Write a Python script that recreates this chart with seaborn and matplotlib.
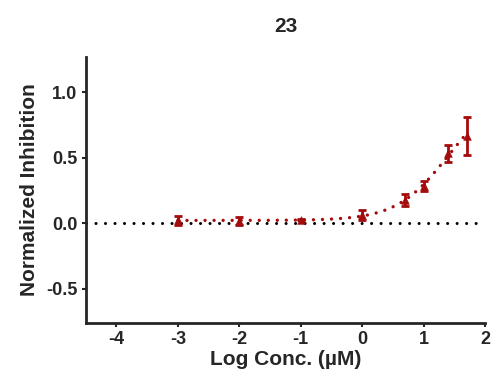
import numpy as np
import pandas as pd
import matplotlib
matplotlib.use("Agg")
import matplotlib.pyplot as plt
import seaborn as sns

# data
log_conc = [-3.0, -2.0, -1.0, 0.0, 0.7, 1.0, 1.4, 1.7]
inhibition = [0.023, 0.017, 0.03, 0.065, 0.18, 0.285, 0.535, 0.67]
sem = [0.035, 0.03, 0.005, 0.04, 0.045, 0.035, 0.065, 0.145]
x_ticks = [-4, -3, -2, -1, 0, 1, 2]
y_ticks = [-0.5, 0.0, 0.5, 1.0]
title = "23"
red = "#A30C0C"


def fit_4pl(x, y, top=1.0):
    # brute-force grid search for a four-parameter logistic with fixed top
    x, y = np.asarray(x), np.asarray(y)
    best = None
    for ec50 in np.linspace(0.5, 3.0, 251):
        for hill in np.linspace(0.3, 3.0, 136):
            s = 1.0 / (1.0 + 10 ** ((ec50 - x) * hill))
            a = 1 - s
            bottom = np.dot(a, y - top * s) / np.dot(a, a)
            err = np.sum((bottom + (top - bottom) * s - y) ** 2)
            if best is None or err < best[0]:
                best = (err, bottom, ec50, hill)
    return best[1:], top


(bottom, ec50, hill), top = fit_4pl(log_conc, inhibition)
xf = np.linspace(min(log_conc), max(log_conc), 300)
curve = pd.DataFrame({
    "x": xf,
    "y": bottom + (top - bottom) / (1 + 10 ** ((ec50 - xf) * hill)),
})
df = pd.DataFrame({"x": log_conc, "y": inhibition, "err": sem})

sns.set_style("ticks")
plt.rcParams["font.family"] = ["Liberation Sans", "DejaVu Sans"]
plt.rcParams["font.weight"] = "bold"

fig = plt.figure(figsize=(4.93, 3.77), dpi=100)
ax = fig.add_axes([0.174, 0.143, 0.81, 0.706])

ax.axhline(0, color="black", lw=2.2, linestyle=(0, (0.01, 3.1)),
           dash_capstyle="round", zorder=1)
sns.lineplot(data=curve, x="x", y="y", ax=ax, color=red, lw=2.4,
             linestyle=(0, (0.01, 2.7)), dash_capstyle="round", zorder=2)
ax.errorbar(df["x"], df["y"], yerr=df["err"], fmt="none", ecolor=red,
            elinewidth=2, capsize=3, capthick=2, zorder=3)
sns.scatterplot(data=df, x="x", y="y", ax=ax, marker="^", s=30,
                color=red, edgecolor=red, zorder=4)

ax.set_xlim(-4.5, 2)
ax.set_ylim(-0.76, 1.27)
ax.set_xticks(x_ticks)
ax.set_xticklabels([str(t) for t in x_ticks])
ax.set_yticks(y_ticks)
ax.set_yticklabels([f"{t:.1f}" for t in y_ticks])
ax.tick_params(axis="both", labelsize=13, width=1.5, length=3, pad=3)
for s in ["left", "bottom"]:
    ax.spines[s].set_linewidth(2)
sns.despine(ax=ax)

ax.set_xlabel("Log Conc. (\u00b5M)", fontsize=15, fontweight="bold", labelpad=1)
ax.set_ylabel("Normalized Inhibition", fontsize=15, fontweight="bold", labelpad=5)
ax.set_title(title, fontsize=15, fontweight="bold", pad=18)

fig.savefig("out.png", dpi=100)
